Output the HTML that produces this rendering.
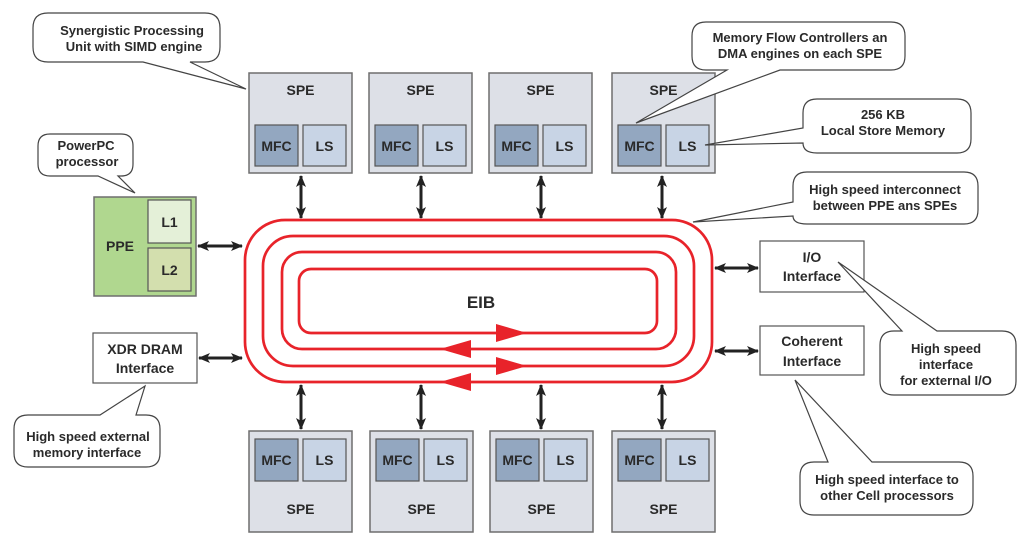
<!DOCTYPE html>
<html><head><meta charset="utf-8"><style>
html,body{margin:0;padding:0;background:#fff;}
svg{display:block;}
text{font-family:"Liberation Sans",Arial,sans-serif;font-weight:bold;fill:#2a2a2a;}
.c{fill:#fff;stroke:#444;stroke-width:1.2;}
.spe{fill:#dde0e7;stroke:#6e6e6e;stroke-width:1.5;}
.mfc{fill:#93a7c0;stroke:#555;stroke-width:1.2;}
.ls{fill:#c8d4e5;stroke:#555;stroke-width:1.2;}
.ring{fill:none;stroke:#e8232a;stroke-width:2.7;}
.ar{stroke:#222;stroke-width:3;fill:none;}
</style></head><body>
<svg width="1024" height="544" viewBox="0 0 1024 544" xmlns="http://www.w3.org/2000/svg">
<defs>
<marker id="h" markerWidth="12" markerHeight="10" refX="11" refY="5" orient="auto-start-reverse" markerUnits="userSpaceOnUse">
<path d="M0,0 L12,5 L0,10 L3,5 Z" fill="#222"/></marker>
</defs>

<rect class="ring" x="245" y="220" width="467" height="162" rx="40"/>
<rect class="ring" x="263" y="236" width="431" height="130" rx="30"/>
<rect class="ring" x="282" y="252" width="394" height="97" rx="20"/>
<rect class="ring" x="299" y="269" width="358" height="64" rx="12"/>
<polygon points="496,324 527,333 496,342" fill="#e8232a"/>
<polygon points="471,340 440,349 471,358" fill="#e8232a"/>
<polygon points="496,357 527,366 496,375" fill="#e8232a"/>
<polygon points="471,373 440,382 471,391" fill="#e8232a"/>
<text x="481" y="308" font-size="17" text-anchor="middle">EIB</text>

<g>
<rect class="spe" x="249" y="73" width="103" height="100"/><text x="300.5" y="95" font-size="14" text-anchor="middle">SPE</text>
<rect class="mfc" x="255" y="125" width="43" height="41"/><text x="276.5" y="151" font-size="14" text-anchor="middle">MFC</text>
<rect class="ls" x="303" y="125" width="43" height="41"/><text x="324.5" y="151" font-size="14" text-anchor="middle">LS</text>
</g>
<g transform="translate(120,0)">
<rect class="spe" x="249" y="73" width="103" height="100"/><text x="300.5" y="95" font-size="14" text-anchor="middle">SPE</text>
<rect class="mfc" x="255" y="125" width="43" height="41"/><text x="276.5" y="151" font-size="14" text-anchor="middle">MFC</text>
<rect class="ls" x="303" y="125" width="43" height="41"/><text x="324.5" y="151" font-size="14" text-anchor="middle">LS</text>
</g>
<g transform="translate(240,0)">
<rect class="spe" x="249" y="73" width="103" height="100"/><text x="300.5" y="95" font-size="14" text-anchor="middle">SPE</text>
<rect class="mfc" x="255" y="125" width="43" height="41"/><text x="276.5" y="151" font-size="14" text-anchor="middle">MFC</text>
<rect class="ls" x="303" y="125" width="43" height="41"/><text x="324.5" y="151" font-size="14" text-anchor="middle">LS</text>
</g>
<g transform="translate(363,0)">
<rect class="spe" x="249" y="73" width="103" height="100"/><text x="300.5" y="95" font-size="14" text-anchor="middle">SPE</text>
<rect class="mfc" x="255" y="125" width="43" height="41"/><text x="276.5" y="151" font-size="14" text-anchor="middle">MFC</text>
<rect class="ls" x="303" y="125" width="43" height="41"/><text x="324.5" y="151" font-size="14" text-anchor="middle">LS</text>
</g>

<g>
<rect class="spe" x="249" y="431" width="103" height="101"/><text x="300.5" y="514" font-size="14" text-anchor="middle">SPE</text>
<rect class="mfc" x="255" y="439" width="43" height="42"/><text x="276.5" y="465" font-size="14" text-anchor="middle">MFC</text>
<rect class="ls" x="303" y="439" width="43" height="42"/><text x="324.5" y="465" font-size="14" text-anchor="middle">LS</text>
</g>
<g transform="translate(121,0)">
<rect class="spe" x="249" y="431" width="103" height="101"/><text x="300.5" y="514" font-size="14" text-anchor="middle">SPE</text>
<rect class="mfc" x="255" y="439" width="43" height="42"/><text x="276.5" y="465" font-size="14" text-anchor="middle">MFC</text>
<rect class="ls" x="303" y="439" width="43" height="42"/><text x="324.5" y="465" font-size="14" text-anchor="middle">LS</text>
</g>
<g transform="translate(241,0)">
<rect class="spe" x="249" y="431" width="103" height="101"/><text x="300.5" y="514" font-size="14" text-anchor="middle">SPE</text>
<rect class="mfc" x="255" y="439" width="43" height="42"/><text x="276.5" y="465" font-size="14" text-anchor="middle">MFC</text>
<rect class="ls" x="303" y="439" width="43" height="42"/><text x="324.5" y="465" font-size="14" text-anchor="middle">LS</text>
</g>
<g transform="translate(363,0)">
<rect class="spe" x="249" y="431" width="103" height="101"/><text x="300.5" y="514" font-size="14" text-anchor="middle">SPE</text>
<rect class="mfc" x="255" y="439" width="43" height="42"/><text x="276.5" y="465" font-size="14" text-anchor="middle">MFC</text>
<rect class="ls" x="303" y="439" width="43" height="42"/><text x="324.5" y="465" font-size="14" text-anchor="middle">LS</text>
</g>

<line class="ar" x1="301" y1="176" x2="301" y2="218" marker-start="url(#h)" marker-end="url(#h)"/>
<line class="ar" x1="421" y1="176" x2="421" y2="218" marker-start="url(#h)" marker-end="url(#h)"/>
<line class="ar" x1="541" y1="176" x2="541" y2="218" marker-start="url(#h)" marker-end="url(#h)"/>
<line class="ar" x1="662" y1="176" x2="662" y2="218" marker-start="url(#h)" marker-end="url(#h)"/>
<line class="ar" x1="301" y1="385" x2="301" y2="429" marker-start="url(#h)" marker-end="url(#h)"/>
<line class="ar" x1="421" y1="385" x2="421" y2="429" marker-start="url(#h)" marker-end="url(#h)"/>
<line class="ar" x1="541" y1="385" x2="541" y2="429" marker-start="url(#h)" marker-end="url(#h)"/>
<line class="ar" x1="662" y1="385" x2="662" y2="429" marker-start="url(#h)" marker-end="url(#h)"/>

<rect x="94" y="197" width="102" height="99" fill="#b0d78f" stroke="#6e6e6e" stroke-width="1.5"/>
<rect x="148" y="200" width="43" height="43" fill="#e4f0d8" stroke="#555" stroke-width="1.2"/>
<rect x="148" y="248" width="43" height="43" fill="#d3dfae" stroke="#555" stroke-width="1.2"/>
<text x="120" y="251" font-size="14" text-anchor="middle">PPE</text>
<text x="169.5" y="227" font-size="14" text-anchor="middle">L1</text>
<text x="169.5" y="275" font-size="14" text-anchor="middle">L2</text>
<line class="ar" x1="198" y1="246" x2="242" y2="246" marker-start="url(#h)" marker-end="url(#h)"/>

<rect x="93" y="333" width="104" height="50" fill="#fff" stroke="#555" stroke-width="1.2"/>
<text x="145" y="354" font-size="14" text-anchor="middle">XDR DRAM</text>
<text x="145" y="373" font-size="14" text-anchor="middle">Interface</text>
<line class="ar" x1="199" y1="358" x2="242" y2="358" marker-start="url(#h)" marker-end="url(#h)"/>

<rect x="760" y="241" width="104" height="51" fill="#fff" stroke="#555" stroke-width="1.2"/>
<text x="812" y="262" font-size="14" text-anchor="middle">I/O</text>
<text x="812" y="281" font-size="14" text-anchor="middle">Interface</text>
<line class="ar" x1="715" y1="268" x2="758" y2="268" marker-start="url(#h)" marker-end="url(#h)"/>
<rect x="760" y="326" width="104" height="49" fill="#fff" stroke="#555" stroke-width="1.2"/>
<text x="812" y="346" font-size="14" text-anchor="middle">Coherent</text>
<text x="812" y="366" font-size="14" text-anchor="middle">Interface</text>
<line class="ar" x1="715" y1="351" x2="758" y2="351" marker-start="url(#h)" marker-end="url(#h)"/>

<g font-size="13">
<path class="c" d="M48,13 H205 Q220,13 220,28 V47 Q220,62 205,62 H190 L246,89 L143,62 H48 Q33,62 33,47 V28 Q33,13 48,13 Z"/>
<text x="132" y="35" text-anchor="middle">Synergistic Processing</text>
<text x="134" y="51" text-anchor="middle">Unit with SIMD engine</text>

<path class="c" d="M50,134 H121 Q133,134 133,146 V164 Q133,176 121,176 H118 L135,193 L98,176 H50 Q38,176 38,164 V146 Q38,134 50,134 Z"/>
<text x="86" y="150" text-anchor="middle">PowerPC</text>
<text x="87" y="166" text-anchor="middle">processor</text>

<path class="c" d="M706,22 H891 Q905,22 905,36 V56 Q905,70 891,70 H780 L636,123 L727,70 H706 Q692,70 692,56 V36 Q692,22 706,22 Z"/>
<text x="800" y="42" text-anchor="middle">Memory Flow Controllers an</text>
<text x="800" y="58" text-anchor="middle">DMA engines on each SPE</text>

<path class="c" d="M817,99 H957 Q971,99 971,113 V139 Q971,153 957,153 H817 Q803,153 803,143 L705,145 L803,128 V113 Q803,99 817,99 Z"/>
<text x="883" y="119" text-anchor="middle">256 KB</text>
<text x="883" y="135" text-anchor="middle">Local Store Memory</text>

<path class="c" d="M807,172 H964 Q978,172 978,186 V210 Q978,224 964,224 H807 Q793,224 793,216 L693,222 L793,202 V186 Q793,172 807,172 Z"/>
<text x="885" y="194" text-anchor="middle">High speed interconnect</text>
<text x="885" y="210" text-anchor="middle">between PPE ans SPEs</text>

<path class="c" d="M894,331 H902 L838,262 L937,331 H1002 Q1016,331 1016,345 V381 Q1016,395 1002,395 H894 Q880,395 880,381 V345 Q880,331 894,331 Z"/>
<text x="946" y="353" text-anchor="middle">High speed</text>
<text x="946" y="369" text-anchor="middle">interface</text>
<text x="946" y="385" text-anchor="middle">for external I/O</text>

<path class="c" d="M814,462 H828 L795,380 L872,462 H959 Q973,462 973,476 V501 Q973,515 959,515 H814 Q800,515 800,501 V476 Q800,462 814,462 Z"/>
<text x="887" y="484" text-anchor="middle">High speed interface to</text>
<text x="887" y="500" text-anchor="middle">other Cell processors</text>

<path class="c" d="M28,415 H100 L145,386 L136,415 H146 Q160,415 160,429 V453 Q160,467 146,467 H28 Q14,467 14,453 V429 Q14,415 28,415 Z"/>
<text x="88" y="441" text-anchor="middle">High speed external</text>
<text x="87" y="457" text-anchor="middle">memory interface</text>
</g>
</svg>
</body></html>
